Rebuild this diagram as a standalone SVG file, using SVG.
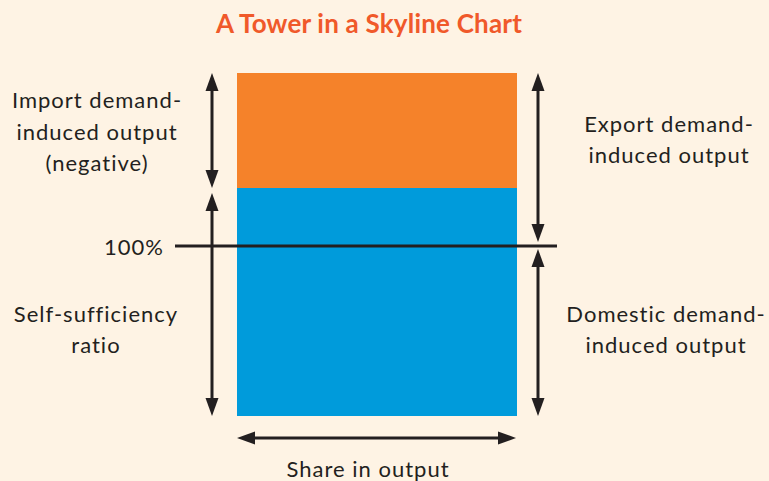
<svg xmlns="http://www.w3.org/2000/svg" width="769" height="481" viewBox="0 0 769 481">
  <style>
    .lbl { font-family: Lato, "Open Sans", "Liberation Sans", sans-serif; font-size: 22px; letter-spacing: 1px; font-variant-ligatures: none; fill: #231F20; text-anchor: middle; }
    .title { font-family: Lato, "Open Sans", "Liberation Sans", sans-serif; font-size: 26px; letter-spacing: 0.2px; font-weight: bold; fill: #F0592A; text-anchor: middle; }
    .arr { stroke: #231F20; stroke-width: 3; fill: none; marker-start: url(#ah); marker-end: url(#ah); }
  </style>
  <defs>
    <marker id="ah" markerUnits="userSpaceOnUse" markerWidth="18" markerHeight="14" viewBox="0 0 18 14" refX="8" refY="7" orient="auto-start-reverse">
      <path d="M0,0.5 L18,7 L0,13.5 Z" fill="#231F20"/>
    </marker>
  </defs>
  <rect width="769" height="481" fill="#FEF3E4"/>
  <text class="title" x="369" y="33">A Tower in a Skyline Chart</text>
  <g id="tower">
    <rect id="export-block" x="237" y="73" width="280" height="115" fill="#F5822A"/>
    <rect id="domestic-block" x="237" y="188" width="280" height="228" fill="#009BDB"/>
  </g>
  <g id="line-100">
    <line x1="175" y1="246" x2="557" y2="246" stroke="#231F20" stroke-width="3"/>
    <text class="lbl" x="164" y="255" style="text-anchor:end">100%</text>
  </g>
  <g id="connectors">
    <line class="arr" x1="212" y1="83" x2="212" y2="178"/>
    <line class="arr" x1="212" y1="203" x2="212" y2="406"/>
    <line class="arr" x1="538" y1="83" x2="538" y2="232"/>
    <line class="arr" x1="538" y1="259" x2="538" y2="406"/>
    <line class="arr" x1="247" y1="438" x2="506" y2="438"/>
  </g>
  <g id="import-label">
    <text class="lbl" x="97" y="108">Import demand-</text>
    <text class="lbl" x="97" y="140">induced output</text>
    <text class="lbl" x="97" y="171">(negative)</text>
  </g>
  <g id="self-label">
    <text class="lbl" x="96" y="322">Self-sufficiency</text>
    <text class="lbl" x="96" y="353">ratio</text>
  </g>
  <g id="export-label">
    <text class="lbl" x="669" y="132">Export demand-</text>
    <text class="lbl" x="669" y="163">induced output</text>
  </g>
  <g id="domestic-label">
    <text class="lbl" x="666" y="322">Domestic demand-</text>
    <text class="lbl" x="666" y="353">induced output</text>
  </g>
  <g id="share-label">
    <text class="lbl" x="368" y="477">Share in output</text>
  </g>
</svg>
